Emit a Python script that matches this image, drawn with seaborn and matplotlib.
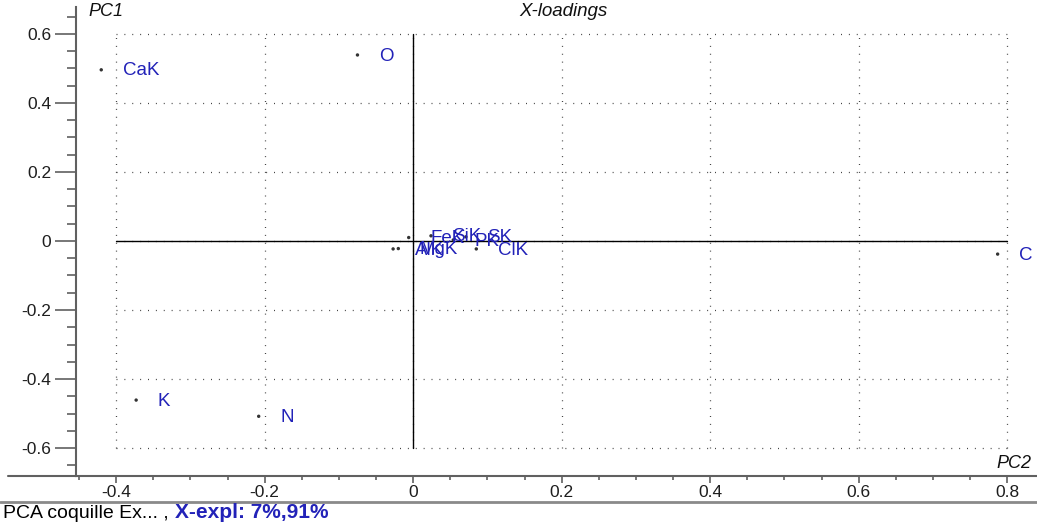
import matplotlib
matplotlib.use("Agg")
import matplotlib.pyplot as plt
from matplotlib.lines import Line2D
from matplotlib.ticker import MultipleLocator
import seaborn as sns
import pandas as pd

# ---- data ----
names = ["CaK", "O", "C", "K", "N", "AlK", "MgK", "FeK", "SiK", "PK", "SK", "ClK"]
pc2 = [-0.420, -0.075, 0.787, -0.373, -0.208, -0.027, -0.020, -0.006, 0.024, 0.054, 0.071, 0.085]
pc1 = [0.496, 0.539, -0.038, -0.461, -0.508, -0.023, -0.022, 0.010, 0.015, 0.003, 0.012, -0.023]
xticks = [-0.4, -0.2, 0, 0.2, 0.4, 0.6, 0.8]
yticks = [-0.6, -0.4, -0.2, 0, 0.2, 0.4, 0.6]
xtick_labels = ["-0.4", "-0.2", "0", "0.2", "0.4", "0.6", "0.8"]
ytick_labels = ["-0.6", "-0.4", "-0.2", "0", "0.2", "0.4", "0.6"]

df = pd.DataFrame({"name": names, "PC2": pc2, "PC1": pc1})

sns.set_theme(style="white")
plt.rcParams["font.family"] = ["Liberation Sans", "DejaVu Sans"]
plt.rcParams["axes.unicode_minus"] = False

W, H = 1037, 524
fig = plt.figure(figsize=(W / 100, H / 100), dpi=100)
fig.patch.set_facecolor("white")
ax = fig.add_axes([76 / W, (H - 476) / H, 1 - 76 / W, (476 - 7) / H])
ax.set_facecolor("white")

grey = "#606060"
blue = "#2222b8"
ax.set_xlim(-0.454, 0.840)
ax.set_ylim(-0.681, 0.678)

# grid box (dotted) over the major tick range
for yv in yticks:
    ax.plot([xticks[0], xticks[-1]], [yv, yv], color="#444444", lw=0.9,
            linestyle=(0, (0.8, 5.5)), zorder=1)
for xv in xticks:
    ax.plot([xv, xv], [yticks[0], yticks[-1]], color="#444444", lw=0.9,
            linestyle=(0, (0.8, 5.5)), zorder=1)
# zero lines
ax.plot([xticks[0], xticks[-1]], [0, 0], color="black", lw=1.0, zorder=2)
ax.plot([0, 0], [yticks[0], yticks[-1]], color="black", lw=1.0, zorder=2)

sns.scatterplot(data=df, x="PC2", y="PC1", s=6, color="#333333",
                edgecolor="none", ax=ax, zorder=3, legend=False)

for n, x, y in zip(names, pc2, pc1):
    ax.annotate(n, (x, y), xytext=(15.5, -0.8), textcoords="offset points",
                ha="left", va="center", color=blue, fontsize=13.5, zorder=4)

ax.set_xticks(xticks)
ax.set_xticklabels(xtick_labels)
ax.set_yticks(yticks)
ax.set_yticklabels(ytick_labels)
ax.xaxis.set_minor_locator(MultipleLocator(0.05))
ax.yaxis.set_minor_locator(MultipleLocator(0.05))
ax.set_xlabel("")
ax.set_ylabel("")

ax.tick_params(axis="y", which="major", direction="out", length=15, width=1.2,
               color=grey, labelsize=12.5, labelcolor="#1e1e1e", pad=3, left=True)
ax.tick_params(axis="y", which="minor", direction="out", length=6.5, width=1.2,
               color=grey, left=True)
ax.tick_params(axis="x", which="major", direction="out", length=5, width=1.2,
               color=grey, labelsize=12.5, labelcolor="#1e1e1e", pad=1.5, bottom=True)
ax.tick_params(axis="x", which="minor", direction="out", length=3, width=1.2,
               color=grey, bottom=True)

for s in ["top", "right"]:
    ax.spines[s].set_visible(False)
ax.spines["left"].set_color(grey)
ax.spines["left"].set_linewidth(1.5)
ax.spines["bottom"].set_color(grey)
ax.spines["bottom"].set_linewidth(1.5)

# extension of bottom axis line and separator line
fig.add_artist(Line2D([8 / W, 76 / W], [(H - 476) / H] * 2, color=grey, lw=1.5))
fig.add_artist(Line2D([0, 1], [(H - 501.5) / H] * 2, color="#8a8a8a", lw=2.0))

# titles
fig.text(88 / W, 1 - 12 / H, "PC1", style="italic", fontsize=13,
         ha="left", va="center", color="#111111")
fig.text(563 / W, 1 - 12 / H, "X-loadings", style="italic", fontsize=13.5,
         ha="center", va="center", color="#111111")
fig.text(1031 / W, 1 - 463 / H, "PC2", style="italic", fontsize=13,
         ha="right", va="center", color="#111111")

fig.text(3 / W, 1 - 513 / H, "PCA coquille Ex... , ", fontsize=14,
         ha="left", va="center", color="black")
fig.text(175 / W, 1 - 513 / H, "X-expl: 7%,91%", fontsize=15, fontweight="bold",
         ha="left", va="center", color=blue)

fig.savefig("out.png", dpi=100, facecolor="white")
